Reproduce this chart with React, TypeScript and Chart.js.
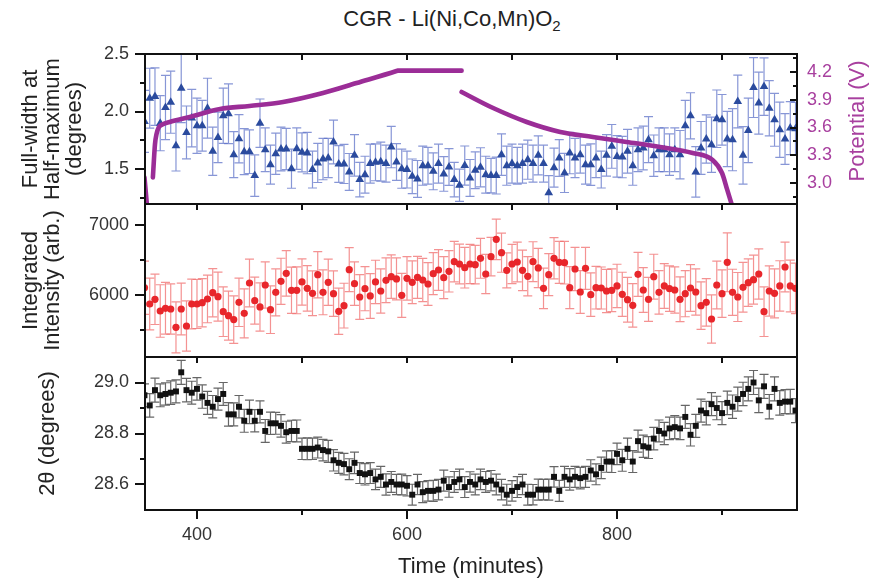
import React, { useEffect, useRef } from "react";
import { Chart, registerables } from "chart.js";
Chart.register(...registerables);

const FONT = "'Liberation Sans', Arial, Helvetica, sans-serif";
Chart.defaults.font.family = FONT;

// ---------- data ----------
const time = [
  350, 355, 360, 365, 370, 375, 380, 385, 390, 395, 400, 405, 410, 415, 420, 425, 430, 435, 440, 445,
  450, 455, 460, 465, 470, 475, 480, 485, 490, 495, 500, 505, 510, 515, 520, 525, 530, 535, 540, 545,
  550, 555, 560, 565, 570, 575, 580, 585, 590, 595, 600, 605, 610, 615, 620, 625, 630, 635, 640, 645,
  650, 655, 660, 665, 670, 675, 680, 685, 690, 695, 700, 705, 710, 715, 720, 725, 730, 735, 740, 745,
  750, 755, 760, 765, 770, 775, 780, 785, 790, 795, 800, 805, 810, 815, 820, 825, 830, 835, 840, 845,
  850, 855, 860, 865, 870, 875, 880, 885, 890, 895, 900, 905, 910, 915, 920, 925, 930, 935, 940, 945,
  950, 955, 960, 965, 970,
];

const fwhm = [
  1.914, 2.116, 2.13, 1.899, 2.035, 2.081, 1.703, 2.203, 1.818, 1.943, 1.876, 1.876, 2.029, 1.654, 1.775, 1.963, 1.98, 1.625, 1.763, 1.651,
  1.651, 1.443, 1.899, 1.668, 1.538, 1.633, 1.674, 1.674, 1.503, 1.677, 1.645, 1.639, 1.495, 1.553, 1.587, 1.596, 1.735, 1.544, 1.544, 1.475,
  1.619, 1.408, 1.451, 1.547, 1.558, 1.564, 1.547, 1.691, 1.561, 1.503, 1.495, 1.437, 1.414, 1.529, 1.529, 1.48, 1.547, 1.457, 1.518, 1.408,
  1.359, 1.53, 1.423, 1.489, 1.515, 1.451, 1.443, 1.443, 1.625, 1.529, 1.547, 1.529, 1.547, 1.581, 1.547, 1.619, 1.547, 1.293, 1.512, 1.596,
  1.466, 1.639, 1.596, 1.625, 1.538, 1.538, 1.596, 1.495, 1.619, 1.697, 1.61, 1.604, 1.654, 1.529, 1.668, 1.683, 1.755, 1.616, 1.668, 1.668,
  1.625, 1.668, 1.625, 1.876, 1.963, 1.475, 1.683, 1.761, 1.711, 1.937, 1.928, 1.761, 1.755, 2.087, 1.619, 1.836, 2.208, 2.073, 2.217, 2.029,
  1.928, 1.841, 1.761, 1.856, 1.85,
];
const fwhmErr = [
  0.27, 0.26, 0.25, 0.24, 0.28, 0.27, 0.22, 0.3, 0.23, 0.25, 0.24, 0.22, 0.26, 0.21, 0.22, 0.24, 0.26, 0.2, 0.21, 0.2,
  0.19, 0.18, 0.21, 0.19, 0.17, 0.18, 0.19, 0.18, 0.17, 0.18, 0.17, 0.18, 0.16, 0.17, 0.18, 0.17, 0.19, 0.16, 0.17, 0.16,
  0.18, 0.15, 0.16, 0.17, 0.16, 0.17, 0.16, 0.18, 0.16, 0.17, 0.16, 0.15, 0.16, 0.17, 0.16, 0.16, 0.17, 0.15, 0.16, 0.15,
  0.14, 0.17, 0.16, 0.16, 0.17, 0.16, 0.15, 0.16, 0.18, 0.17, 0.17, 0.16, 0.17, 0.17, 0.16, 0.17, 0.16, 0.15, 0.17, 0.16,
  0.17, 0.18, 0.17, 0.16, 0.17, 0.18, 0.17, 0.16, 0.18, 0.19, 0.18, 0.18, 0.19, 0.17, 0.19, 0.19, 0.2, 0.18, 0.19, 0.19,
  0.18, 0.19, 0.21, 0.22, 0.2, 0.22, 0.23, 0.21, 0.24, 0.25, 0.22, 0.24, 0.27, 0.23, 0.25, 0.28, 0.26, 0.27, 0.25, 0.24,
  0.23, 0.24, 0.22, 0.23, 0.23,
];

const intensity = [
  6104, 5871, 5938, 5771, 5810, 5800, 5538, 5800, 5557, 5871, 5871, 5890, 5943, 6033, 5976, 5762, 5705, 5648, 5895, 5738,
  6171, 5919, 5829, 6143, 5790, 6038, 6195, 6309, 6067, 6067, 6186, 6095, 6024, 6290, 6038, 6181, 6019, 5767, 5848, 6362,
  6162, 5971, 6090, 5986, 6186, 6057, 6210, 6262, 6229, 5995, 6238, 6181, 6252, 6214, 6157, 6305, 6357, 6248, 6338, 6476,
  6443, 6390, 6443, 6433, 6524, 6300, 6548, 6795, 6605, 6352, 6443, 6471, 6352, 6267, 6476, 6386, 6095, 6290, 6524, 6467,
  6462, 6105, 6371, 6043, 6381, 6005, 6105, 6100, 6057, 6067, 6129, 6010, 5933, 5852, 6295, 6071, 5938, 6262, 6038, 6129,
  6090, 6071, 5938, 6019, 6100, 6043, 5848, 5895, 5657, 6143, 6019, 6467, 6038, 5971, 6110, 6176, 6219, 6300, 5762, 6057,
  6024, 6129, 6400, 6129, 6095,
];
const intensityErr = [
  380, 370, 360, 375, 370, 360, 365, 370, 360, 355, 350, 345, 340, 345, 350, 355, 350, 340, 345, 350,
  340, 335, 345, 330, 340, 335, 330, 325, 330, 335, 330, 325, 320, 330, 320, 330, 325, 330, 320, 315,
  310, 320, 315, 320, 310, 315, 320, 310, 300, 315, 310, 305, 300, 310, 305, 300, 290, 300, 295, 290,
  285, 290, 280, 275, 285, 280, 275, 290, 280, 250, 280, 285, 290, 280, 285, 280, 290, 300, 295, 300,
  305, 300, 310, 305, 300, 310, 305, 300, 310, 305, 310, 315, 320, 310, 315, 320, 315, 320, 310, 320,
  325, 330, 320, 330, 335, 330, 340, 340, 345, 340, 340, 420, 330, 350, 355, 340, 350, 360, 355, 360,
  350, 360, 355, 370, 360,
];

const twoTheta = [
  28.95, 28.91, 28.97, 28.95, 28.955, 28.96, 28.965, 29.04, 28.97, 28.96, 28.975, 28.945, 28.92, 28.905, 28.935, 28.955, 28.875, 28.875, 28.905, 28.85,
  28.885, 28.85, 28.885, 28.81, 28.84, 28.84, 28.83, 28.805, 28.81, 28.81, 28.74, 28.74, 28.74, 28.745, 28.735, 28.73, 28.695, 28.685, 28.68, 28.66,
  28.685, 28.645, 28.64, 28.645, 28.62, 28.63, 28.6, 28.61, 28.6, 28.6, 28.595, 28.56, 28.6, 28.57, 28.575, 28.575, 28.58, 28.615, 28.59, 28.61,
  28.62, 28.59, 28.61, 28.6, 28.62, 28.61, 28.615, 28.6, 28.58, 28.56, 28.575, 28.59, 28.6, 28.56, 28.56, 28.58, 28.58, 28.58, 28.63, 28.575,
  28.63, 28.62, 28.63, 28.625, 28.63, 28.655, 28.64, 28.665, 28.69, 28.69, 28.72, 28.695, 28.74, 28.69, 28.77, 28.75, 28.745, 28.78, 28.81, 28.8,
  28.82, 28.825, 28.82, 28.865, 28.795, 28.83, 28.89, 28.88, 28.915, 28.9, 28.88, 28.92, 28.905, 28.935, 28.955, 28.975, 29.0, 28.93, 28.985, 28.905,
  28.975, 28.92, 28.925, 28.925, 28.89,
];
const twoThetaErr = [
  0.045, 0.046, 0.047, 0.045, 0.044, 0.046, 0.045, 0.047, 0.046, 0.045, 0.044, 0.046, 0.045, 0.044, 0.043, 0.045, 0.046, 0.045, 0.044, 0.045,
  0.046, 0.044, 0.043, 0.045, 0.044, 0.043, 0.044, 0.043, 0.042, 0.043, 0.042, 0.043, 0.042, 0.041, 0.042, 0.043, 0.042, 0.041, 0.042, 0.041,
  0.042, 0.041, 0.042, 0.041, 0.04, 0.041, 0.042, 0.041, 0.04, 0.041, 0.04, 0.041, 0.04, 0.041, 0.04, 0.041, 0.04, 0.041, 0.04, 0.041,
  0.04, 0.041, 0.04, 0.041, 0.04, 0.041, 0.04, 0.041, 0.04, 0.041, 0.04, 0.041, 0.04, 0.041, 0.04, 0.041, 0.04, 0.041, 0.04, 0.041,
  0.041, 0.042, 0.041, 0.042, 0.041, 0.042, 0.041, 0.042, 0.042, 0.043, 0.042, 0.043, 0.042, 0.043, 0.043, 0.044, 0.043, 0.044, 0.043, 0.044,
  0.044, 0.045, 0.044, 0.045, 0.044, 0.045, 0.045, 0.046, 0.045, 0.046, 0.045, 0.046, 0.046, 0.047, 0.046, 0.047, 0.047, 0.048, 0.047, 0.048,
  0.047, 0.048, 0.047, 0.048, 0.047,
];

// potential trace (null = gap)
const potTime = [
  350, 352.5, null,
  358, 359, 360, 361.5, 363.5, 366.5, 374, 393, 422, 450, 482, 520, 552, 590, 591, 652,
  null,
  652, 682, 714, 746, 777, 809, 841, 872, 891, 900, 905, 910,
];
const potValue = [
  3.06, 2.74, null,
  3.06, 3.25, 3.42, 3.53, 3.6, 3.63, 3.66, 3.714, 3.8, 3.833, 3.876, 3.973, 4.081, 4.211, 4.215, 4.215,
  null,
  3.984, 3.811, 3.66, 3.552, 3.498, 3.444, 3.39, 3.325, 3.249, 3.108, 2.925, 2.74,
];

// axes
const xRange = [350.5, 971.4];
const xMajorTicks = [400, 600, 800];
const xMinorTicks = [500, 700, 900];
const fwhmRange = [1.196, 2.5];
const fwhmTicks = [1.5, 2.0, 2.5];
const fwhmMinor = [1.25, 1.75, 2.25];
const potRange = [2.773, 4.395];
const potTicks = [3.0, 3.3, 3.6, 3.9, 4.2];
const potMinor = [2.85, 3.15, 3.45, 3.75, 4.05, 4.35];
const intRange = [5114, 7300];
const intTicks = [6000, 7000];
const intMinor = [5500, 6500];
const ttRange = [28.5, 29.1];
const ttTicks = [28.6, 28.8, 29.0];
const ttMinor = [28.7, 28.9];

// ---------- styles ----------
const PURPLE = "#9b2d97";
const PURPLE_TXT = "#a8409f";
const BLUE = "#2b4b9e";
const BLUE_ERR = "rgba(95,115,200,0.75)";
const RED = "#e8262b";
const RED_ERR = "rgba(240,110,110,0.75)";
const BLACK = "#111111";
const BLACK_ERR = "#666666";
const TICK_COLOR = "#333333";
const TITLE_COLOR = "#222222";

const errorBarPlugin = {
  id: "errorBars",
  beforeDatasetsDraw(chart: any) {
    const { ctx, chartArea: a } = chart;
    ctx.save();
    ctx.beginPath();
    ctx.rect(a.left, a.top, a.right - a.left, a.bottom - a.top);
    ctx.clip();
    chart.data.datasets.forEach((ds: any) => {
      if (!ds.errorBars) return;
      const xs = chart.scales[ds.xAxisID || "x"];
      const ys = chart.scales[ds.yAxisID || "y"];
      ctx.strokeStyle = ds.errorColor;
      ctx.lineWidth = 1.2;
      const cap = 4.5;
      ds.data.forEach((p: any, j: number) => {
        const e = ds.errorBars[j];
        const x = xs.getPixelForValue(p.x);
        const y1 = ys.getPixelForValue(p.y - e);
        const y2 = ys.getPixelForValue(p.y + e);
        ctx.beginPath();
        ctx.moveTo(x, y1);
        ctx.lineTo(x, y2);
        ctx.moveTo(x - cap, y1);
        ctx.lineTo(x + cap, y1);
        ctx.moveTo(x - cap, y2);
        ctx.lineTo(x + cap, y2);
        ctx.stroke();
      });
    });
    ctx.restore();
  },
};

type FrameOpts = {
  yMajor: number[];
  yMinor: number[];
  bottomOut?: boolean;
  rMajor?: number[];
  rMinor?: number[];
  rightTitle?: string;
};

function makeFrame(o: FrameOpts) {
  return {
    id: "frame",
    afterDraw(chart: any) {
      const { ctx, chartArea: a, scales } = chart;
      const xs = scales.x;
      const ys = scales.y;
      ctx.save();
      ctx.strokeStyle = "#111";
      ctx.lineWidth = 2;
      ctx.strokeRect(a.left, a.top, a.right - a.left, a.bottom - a.top);
      const line = (x1: number, y1: number, x2: number, y2: number) => {
        ctx.beginPath();
        ctx.moveTo(x1, y1);
        ctx.lineTo(x2, y2);
        ctx.stroke();
      };
      // x ticks at top, inside
      [...xMajorTicks, ...xMinorTicks].forEach((v) => {
        const x = Math.round(xs.getPixelForValue(v));
        line(x, a.top, x, a.top + 6);
      });
      if (o.bottomOut) {
        xMajorTicks.forEach((v) => {
          const x = Math.round(xs.getPixelForValue(v));
          line(x, a.bottom, x, a.bottom + 9);
        });
        xMinorTicks.forEach((v) => {
          const x = Math.round(xs.getPixelForValue(v));
          line(x, a.bottom, x, a.bottom + 5);
        });
      }
      // left y ticks, outside
      o.yMajor.forEach((v) => {
        const y = Math.round(ys.getPixelForValue(v));
        line(a.left - 10, y, a.left, y);
      });
      o.yMinor.forEach((v) => {
        const y = Math.round(ys.getPixelForValue(v));
        line(a.left - 5, y, a.left, y);
      });
      // right axis ticks, inside
      if (o.rMajor && scales.y2) {
        const rs = scales.y2;
        o.rMajor.forEach((v) => {
          const y = Math.round(rs.getPixelForValue(v));
          line(a.right - 7, y, a.right, y);
        });
        (o.rMinor || []).forEach((v) => {
          const y = Math.round(rs.getPixelForValue(v));
          line(a.right - 4, y, a.right, y);
        });
      }
      if (o.rightTitle) {
        ctx.fillStyle = PURPLE_TXT;
        ctx.font = `22px ${FONT}`;
        ctx.textAlign = "center";
        ctx.textBaseline = "middle";
        ctx.translate(858, (a.top + a.bottom) / 2 - 8);
        ctx.rotate(-Math.PI / 2);
        ctx.fillText(o.rightTitle, 0, 0);
      }
      ctx.restore();
    },
  };
}

function leftAxis(range: number[], ticks: number[], title: string | string[], titlePad: number, fmt: (v: number) => string) {
  return {
    position: "left",
    min: range[0],
    max: range[1],
    afterFit: (s: any) => {
      s.width = 145;
    },
    afterBuildTicks: (s: any) => {
      s.ticks = ticks.map((v) => ({ value: v }));
    },
    grid: { display: false, drawTicks: false },
    border: { display: false },
    ticks: { padding: 16, color: TICK_COLOR, font: { size: 18 }, callback: (v: any) => fmt(Number(v)) },
    title: { display: true, text: title, color: TITLE_COLOR, font: { size: 22, lineHeight: 1.0 }, padding: { top: titlePad, bottom: 0 } },
  };
}

function hiddenX() {
  return { type: "linear", min: xRange[0], max: xRange[1], display: false };
}

function cfg1(): any {
  return {
    type: "scatter",
    data: {
      datasets: [
        {
          type: "line",
          label: "Potential",
          data: potTime.map((t, i) => ({ x: t, y: potValue[i] })),
          yAxisID: "y2",
          borderColor: PURPLE,
          borderWidth: 4.6,
          borderCapStyle: "round",
          pointRadius: 0,
          spanGaps: false,
          cubicInterpolationMode: "monotone",
          order: 0,
          clip: 0,
        },
        {
          label: "FWHM",
          data: time.map((t, i) => ({ x: t, y: fwhm[i] })),
          yAxisID: "y",
          pointStyle: "triangle",
          pointRadius: 5,
          backgroundColor: BLUE,
          borderColor: BLUE,
          borderWidth: 0,
          errorBars: fwhmErr,
          errorColor: BLUE_ERR,
          order: 1,
          clip: 0,
        },
      ],
    },
    options: {
      responsive: false,
      animation: false,
      events: [],
      layout: { padding: { top: 54, bottom: 376, left: 0, right: 0 } },
      plugins: { legend: { display: false }, tooltip: { enabled: false } },
      scales: {
        x: hiddenX(),
        y: leftAxis(fwhmRange, fwhmTicks, ["Full-width at", "Half-maximum", "(degrees)"], 20, (v) => v.toFixed(1)),
        y2: {
          position: "right",
          min: potRange[0],
          max: potRange[1],
          afterFit: (s: any) => {
            s.width = 75;
          },
          afterBuildTicks: (s: any) => {
            s.ticks = potTicks.map((v) => ({ value: v }));
          },
          grid: { display: false, drawTicks: false },
          border: { display: false },
          ticks: { padding: 10, color: PURPLE_TXT, font: { size: 18 }, callback: (v: any) => Number(v).toFixed(1) },
        },
      },
    },
    plugins: [errorBarPlugin, makeFrame({ yMajor: fwhmTicks, yMinor: fwhmMinor, rMajor: potTicks, rMinor: potMinor, rightTitle: "Potential (V)" })],
  };
}

function cfg2(): any {
  return {
    type: "scatter",
    data: {
      datasets: [
        {
          label: "Intensity",
          data: time.map((t, i) => ({ x: t, y: intensity[i] })),
          pointStyle: "circle",
          pointRadius: 3.6,
          backgroundColor: RED,
          borderColor: RED,
          borderWidth: 0,
          errorBars: intensityErr,
          errorColor: RED_ERR,
          clip: 0,
        },
      ],
    },
    options: {
      responsive: false,
      animation: false,
      events: [],
      layout: { padding: { top: 204, bottom: 223, left: 0, right: 75 } },
      plugins: { legend: { display: false }, tooltip: { enabled: false } },
      scales: {
        x: hiddenX(),
        y: leftAxis(intRange, intTicks, ["Integrated", "Intensity (arb.)"], 20, (v) => String(Math.round(v))),
      },
    },
    plugins: [errorBarPlugin, makeFrame({ yMajor: intTicks, yMinor: intMinor })],
  };
}

function cfg3(): any {
  return {
    type: "scatter",
    data: {
      datasets: [
        {
          label: "2theta",
          data: time.map((t, i) => ({ x: t, y: twoTheta[i] })),
          pointStyle: "rect",
          pointRadius: 4.2,
          backgroundColor: BLACK,
          borderColor: BLACK,
          borderWidth: 0,
          errorBars: twoThetaErr,
          errorColor: BLACK_ERR,
          clip: 0,
        },
      ],
    },
    options: {
      responsive: false,
      animation: false,
      events: [],
      layout: { padding: { top: 357, bottom: 0, left: 0, right: 75 } },
      plugins: { legend: { display: false }, tooltip: { enabled: false } },
      scales: {
        x: {
          type: "linear",
          position: "bottom",
          min: xRange[0],
          max: xRange[1],
          afterFit: (s: any) => {
            s.height = 70;
          },
          afterBuildTicks: (s: any) => {
            s.ticks = xMajorTicks.map((v) => ({ value: v }));
          },
          grid: { display: false, drawTicks: false },
          border: { display: false },
          ticks: { padding: 14, color: TICK_COLOR, font: { size: 18 }, maxRotation: 0, callback: (v: any) => String(v) },
          title: { display: true, text: "Time (minutes)", color: TITLE_COLOR, font: { size: 22, lineHeight: 1.0 }, padding: { top: 0, bottom: 2 } },
        },
        y: leftAxis(ttRange, ttTicks, "2θ (degrees)", 37, (v) => v.toFixed(1)),
      },
    },
    plugins: [errorBarPlugin, makeFrame({ yMajor: ttTicks, yMinor: ttMinor, bottomOut: true })],
  };
}

export default function App() {
  const r1 = useRef<HTMLCanvasElement>(null);
  const r2 = useRef<HTMLCanvasElement>(null);
  const r3 = useRef<HTMLCanvasElement>(null);

  useEffect(() => {
    const charts = [
      new Chart(r1.current as HTMLCanvasElement, cfg1()),
      new Chart(r2.current as HTMLCanvasElement, cfg2()),
      new Chart(r3.current as HTMLCanvasElement, cfg3()),
    ];
    return () => charts.forEach((c) => c.destroy());
  }, []);

  const cs: React.CSSProperties = { position: "absolute", left: 0, top: 0, width: 872, height: 580 };
  return (
    <div style={{ position: "absolute", left: 0, top: 0, width: 872, height: 580, background: "#fff", overflow: "hidden" }}>
      <div
        style={{
          position: "absolute",
          left: 0,
          top: 7,
          width: 904,
          textAlign: "center",
          fontFamily: FONT,
          fontSize: 22,
          lineHeight: "24px",
          color: TITLE_COLOR,
        }}
      >
        CGR - Li(Ni,Co,Mn)O<sub style={{ fontSize: 15, lineHeight: 0, verticalAlign: "-5px" }}>2</sub>
      </div>
      <canvas ref={r1} width={872} height={580} style={cs} />
      <canvas ref={r2} width={872} height={580} style={cs} />
      <canvas ref={r3} width={872} height={580} style={cs} />
    </div>
  );
}
